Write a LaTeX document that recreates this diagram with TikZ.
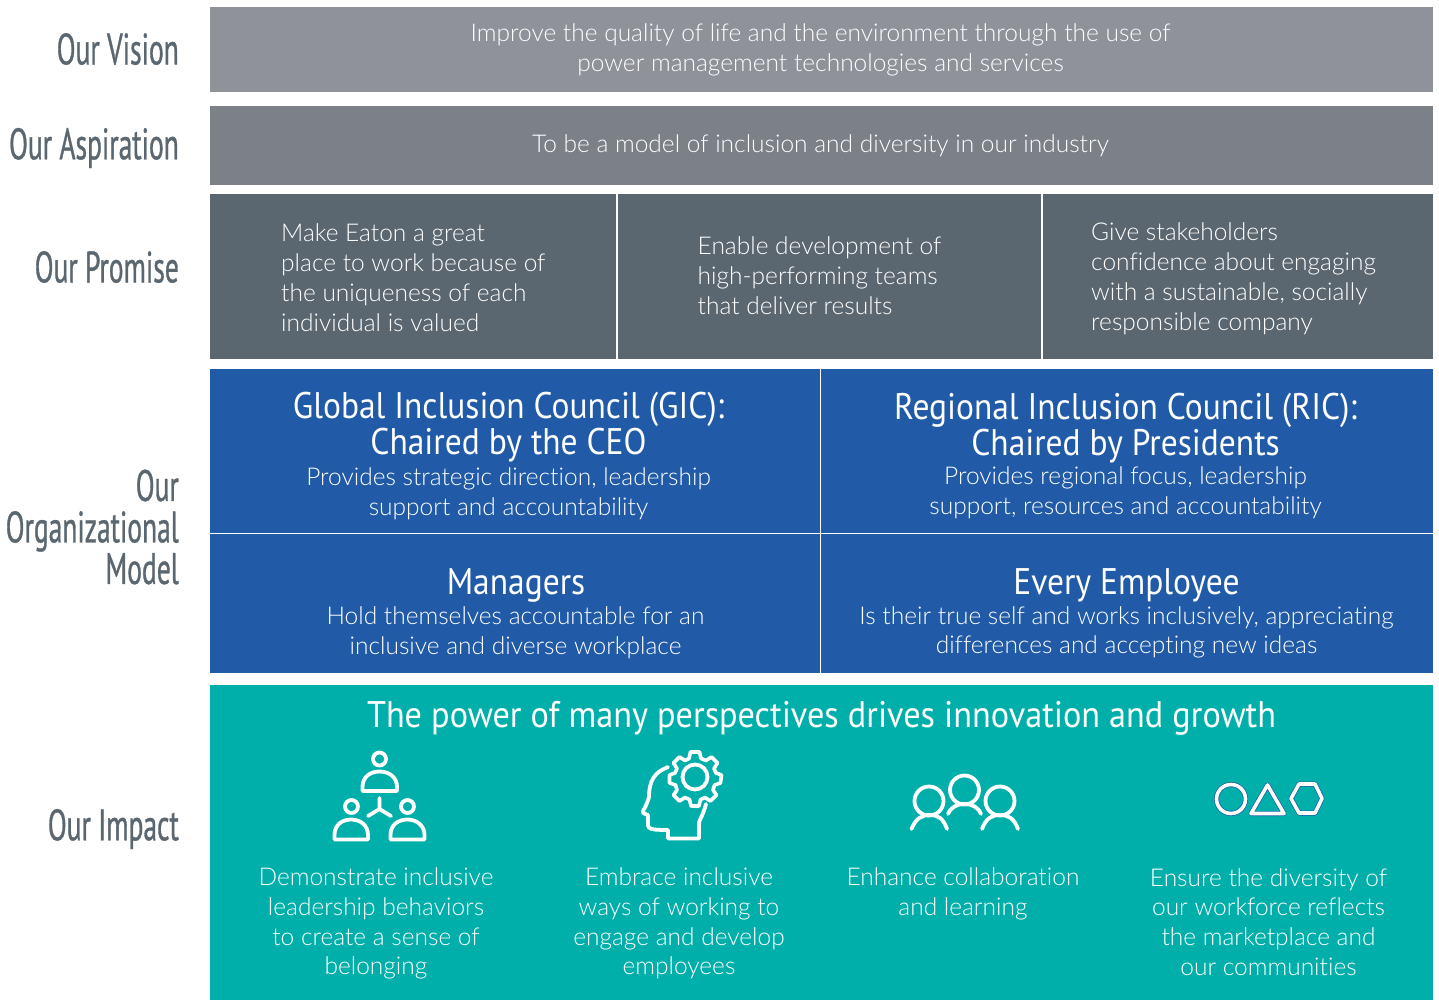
\documentclass[tikz,border=0pt]{standalone}
\usepackage{fontspec}
\setmainfont{Lato Light}[BoldFont=Lato,Ligatures=NoCommon]
\newfontfamily\headfont{PT Sans}[FakeStretch=0.625,FakeBold=0.7]
\newfontfamily\midfont{PT Sans}[FakeStretch=0.905]
\newfontfamily\wideheadfont{PT Sans}[FakeStretch=0.925]
\definecolor{visionc}{HTML}{8F9299}
\definecolor{aspirec}{HTML}{7C8087}
\definecolor{promisec}{HTML}{5B6770}
\definecolor{bluec}{HTML}{215BA8}
\definecolor{tealc}{HTML}{00AFA9}
\tikzset{
  x=1pt,y=-1pt,
  band/.style={fill=#1,draw=none},
  divider/.style={draw=white,line width=1.6pt},
  head/.style={font=\headfont\fontsize{44}{41.5}\selectfont,text=promisec,anchor=east,align=right,inner sep=0pt},
  body/.style={font=\fontsize{24.5}{29.7}\selectfont,text=white,align=center,inner sep=0pt},
  bodyl/.style={font=\fontsize{24.5}{30}\selectfont,text=white,align=left,inner sep=0pt,anchor=west},
  big/.style={font=\midfont\fontsize{37}{36}\selectfont,text=white,align=center,inner sep=0pt},
  bigwide/.style={font=\wideheadfont\fontsize{37}{36}\selectfont,text=white,align=center,inner sep=0pt},
  icon/.style={draw=white,line width=3.8pt,line cap=round,line join=round},
  iconb/.style={draw=bluec,line width=5pt,line join=round},
  iconw/.style={draw=white,line width=3.6pt,line join=round},
}
\begin{document}
\begin{tikzpicture}
\useasboundingbox (0,0) rectangle (1439,1000);
\fill[white] (0,0) rectangle (1439,1000);
% bands
\path[band=visionc] (210,7) rectangle (1433,92);
\path[band=aspirec] (210,106) rectangle (1433,185);
\path[band=promisec] (210,194) rectangle (1433,359);
\path[band=bluec] (210,369) rectangle (1433,673);
\path[band=tealc] (210,685) rectangle (1433,1000);
% dividers
\coordinate (p1t) at (617,194); \coordinate (p1b) at (617,359);
\coordinate (p2t) at (1042,194); \coordinate (p2b) at (1042,359);
\coordinate (bvt) at (820.5,369); \coordinate (bvb) at (820.5,673);
\coordinate (bhl) at (210,533.5); \coordinate (bhr) at (1433,533.5);
\draw[divider] (p1t) -- (p1b);
\draw[divider] (p2t) -- (p2b);
\draw[divider] (bvt) -- (bvb);
\draw[divider] (bhl) -- (bhr);
% headings
\node[head] (hvision) at (179,49) {Our Vision};
\node[head] (haspire) at (179,148) {Our Aspiration};
\node[head] (hpromise) at (179,267) {Our Promise};
\node[head] (hmodel) at (179,527) {Our\\Organizational\\Model};
\node[head] (himpact) at (179,829) {Our Impact};
% vision / aspiration
\node[body] (tvision) at (820.5,50) {Improve the quality of life and the environment through the use of\\power management technologies and services};
\node[body] (taspire) at (820.5,146) {To be a model of inclusion and diversity in our industry};
% promise
\node[bodyl] (tp1) at (281,278) {Make Eaton a great\\place to work because of\\the uniqueness of each\\individual is valued};
\node[bodyl] (tp2) at (697.5,276) {Enable development of\\high-performing teams\\that deliver results};
\node[bodyl] (tp3) at (1091,278.5) {Give stakeholders\\confidence about engaging\\with a sustainable, socially\\responsible company};
% org model
\node[big] (tgic) at (508.5,427) {Global Inclusion Council (GIC):\\Chaired by the CEO};
\node[body] (tgics) at (508.5,493.5) {Provides strategic direction, leadership\\support and accountability};
\node[big] (tric) at (1125.5,428) {Regional Inclusion Council (RIC):\\Chaired by Presidents};
\node[body] (trics) at (1125.5,493) {Provides regional focus, leadership\\support, resources and accountability};
\node[big] (tmgr) at (516,585) {Managers};
\node[body] (tmgrs) at (515.5,632.5) {Hold themselves accountable for an\\inclusive and diverse workplace};
\node[big] (temp) at (1126.5,585) {Every Employee};
\node[body] (temps) at (1126.5,632.5) {Is their true self and works inclusively, appreciating\\differences and accepting new ideas};
% impact
\node[bigwide] (timpact) at (821.5,718) {The power of many perspectives drives innovation and growth};
\node[body] (ti1) at (376,923.5) {Demonstrate inclusive\\leadership behaviors\\to create a sense of\\belonging};
\node[body] (ti2) at (679,923.5) {Embrace inclusive\\ways of working to\\engage and develop\\employees};
\node[body] (ti3) at (963,894) {Enhance collaboration\\and learning};
\node[body] (ti4) at (1268.5,922) {Ensure the diversity of\\our workforce reflects\\the marketplace and\\our communities};
% icon 1: people hierarchy
\draw[icon] (379.5,759) circle (6.5);
\draw[icon] (362.5,791) -- (397,791) -- (397,787) .. controls (397,777) and (389,771.5) .. (379.5,771.5) .. controls (370,771.5) and (362.5,777) .. (362.5,787) -- cycle;
\draw[icon] (351.5,806.5) circle (6.5);
\draw[icon] (334.5,839.5) -- (368,839.5) -- (368,835) .. controls (368,825) and (360,819.5) .. (351,819.5) .. controls (342,819.5) and (334.5,825) .. (334.5,835) -- cycle;
\draw[icon] (407.5,806.5) circle (6.5);
\draw[icon] (390.5,839.5) -- (424.5,839.5) -- (424.5,835) .. controls (424.5,825) and (416,819.5) .. (407.5,819.5) .. controls (398,819.5) and (390.5,825) .. (390.5,835) -- cycle;
\draw[icon] (379.5,798) -- (379.5,809) -- (368,816);
\draw[icon] (379.5,809) -- (391,816);
% icon 2: head with gear
\draw[icon] (668,767) .. controls (655,772) and (649,780) .. (649,797) .. controls (648,801) and (646,806) .. (643,811) .. controls (642,813) and (645,814) .. (648,815) -- (648,825) .. controls (648,829) and (651,830) .. (668,830) -- (668,838.5) -- (699,838.5) -- (699,823) .. controls (699,820) and (703,816) .. (706,804);
\draw[icon] (695,777) circle (12.5);
\draw[iconw]
  (690.5,752) -- (699.5,752) -- (701,758.5) -- (706,760.5) -- (711.5,757) -- (717.5,763) -- (714,768.5) -- (716,773) -- (721.5,775) -- (720.5,783) -- (714.5,785) -- (713,790) -- (716.5,795) -- (710.5,801) -- (705,797.5) -- (700.5,799.5) -- (699,806) -- (691,806) -- (689.5,799.5) -- (685,797.5) -- (679.5,801) -- (673.5,795) -- (677,790) -- (675.5,785) -- (669.5,783) -- (669.5,775) -- (675,773) -- (677,768.5) -- (673.5,763) -- (679.5,757) -- (685,760.5) -- (689,758.5) -- cycle;
% icon 3: three people
\draw[icon] (929,801) circle (14.5);
\draw[icon] (911.5,829) .. controls (916,818) and (922,815) .. (930,815) .. controls (938,815) and (943,818) .. (947,829);
\draw[icon] (964.5,790) circle (14.5);
\draw[icon] (948,814) .. controls (951,807) and (957,804) .. (964.5,804) .. controls (972,804) and (978,807) .. (981,814);
\draw[icon] (1000,801) circle (14.5);
\draw[icon] (982,829) .. controls (986,818) and (992,815) .. (1000,815) .. controls (1008,815) and (1014,818) .. (1018,829);
% icon 4: shapes
\draw[iconb] (1231,799) circle (14.5);
\draw[iconb] (1267.5,785) -- (1251,813.5) -- (1284,813.5) -- cycle;
\draw[iconb] (1299,784) -- (1315,784) -- (1322,798.5) -- (1315,813) -- (1299,813) -- (1291,798.5) -- cycle;
\draw[iconw] (1231,799) circle (14.5);
\draw[iconw] (1267.5,785) -- (1251,813.5) -- (1284,813.5) -- cycle;
\draw[iconw] (1299,784) -- (1315,784) -- (1322,798.5) -- (1315,813) -- (1299,813) -- (1291,798.5) -- cycle;
\end{tikzpicture}
\end{document}
